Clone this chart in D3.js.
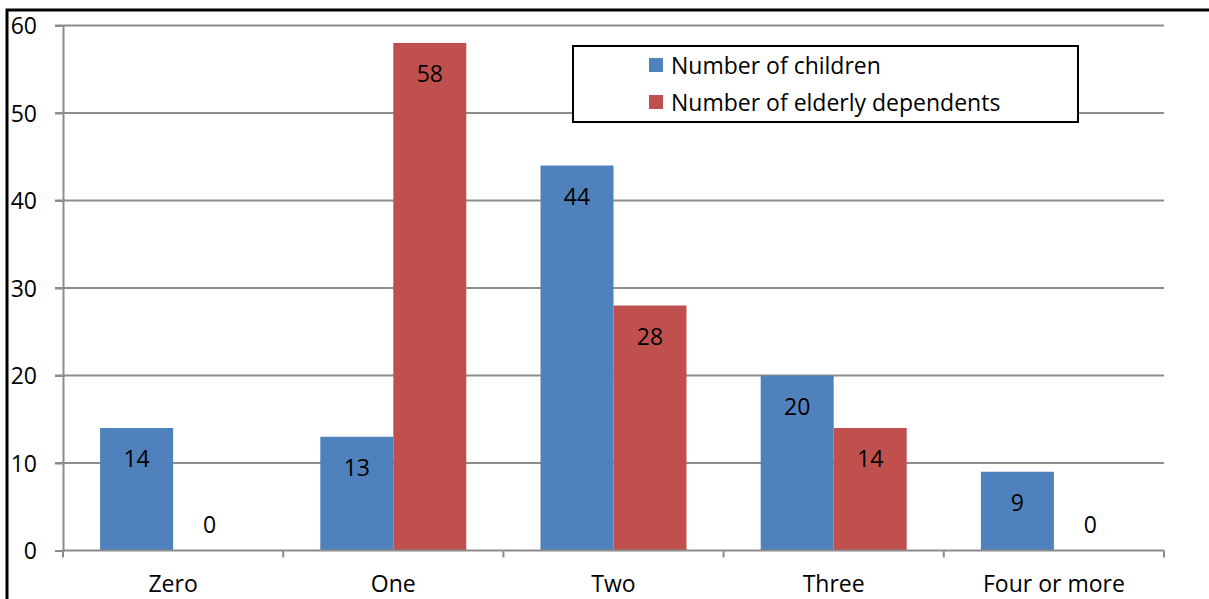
<!DOCTYPE html>
<html>
<head>
<meta charset="utf-8">
<script src="https://cdn.jsdelivr.net/npm/d3@7"></script>
<style>
  html, body { margin: 0; padding: 0; background: #fff; }
  svg { display: block; }
  text { font-family: "Open Sans", sans-serif; fill: #000; }
</style>
</head>
<body>
<svg id="chart" width="1209" height="599"></svg>
<script>
// Household composition counts
const categories = ["Zero", "One", "Two", "Three", "Four or more"];
const seriesNames = ["Number of children", "Number of elderly dependents"];
const children = [14, 13, 44, 20, 9];
const elderly = [0, 58, 28, 14, 0];
const yTicks = [0, 10, 20, 30, 40, 50, 60];
const colors = ["#4F81BD", "#C0504D"];

const FONT = "'Open Sans', sans-serif";
const FS = 23;

const svg = d3.select("#chart");
const W = 1209, H = 599;
const plot = { left: 63, right: 1164, top: 25.5, bottom: 550.5 };

// outer frame (extends past the bottom/right edges)
svg.append("rect")
  .attr("x", 7).attr("y", 10)
  .attr("width", W + 20).attr("height", H + 20)
  .attr("fill", "none").attr("stroke", "#000").attr("stroke-width", 3);

const x = d3.scaleBand().domain(categories).range([plot.left, plot.right]);
const y = d3.scaleLinear().domain([0, 60]).range([plot.bottom, plot.top]);
const barW = 73;

// gridlines
svg.append("g").selectAll("line")
  .data(yTicks.filter(d => d > 0))
  .join("line")
  .attr("x1", plot.left - 8).attr("x2", plot.right)
  .attr("y1", d => y(d)).attr("y2", d => y(d))
  .attr("stroke", "#8C8C8C").attr("stroke-width", 2);

// y axis
const yAxis = svg.append("g")
  .attr("transform", `translate(${plot.left},0)`)
  .call(d3.axisLeft(y).tickValues(yTicks).tickSize(8).tickPadding(18));
yAxis.select(".domain").attr("stroke", "#8C8C8C").attr("stroke-width", 2);
yAxis.selectAll(".tick line").attr("stroke", "#8C8C8C").attr("stroke-width", 2);
yAxis.selectAll(".tick text")
  .attr("font-size", FS).attr("font-family", FONT)
  .attr("fill", "#000").attr("dy", "0.36em");

// bars with value labels
const series = [children, elderly];
series.forEach((vals, si) => {
  const g = svg.append("g");
  const rows = categories.map((c, i) => ({ c, v: vals[i] }));
  g.selectAll("rect")
    .data(rows)
    .join("rect")
    .attr("x", d => x(d.c) + x.bandwidth() / 2 - barW + si * barW)
    .attr("y", d => y(d.v))
    .attr("width", barW)
    .attr("height", d => y(0) - y(d.v))
    .attr("fill", colors[si]);
  g.selectAll("text")
    .data(rows)
    .join("text")
    .attr("x", d => x(d.c) + x.bandwidth() / 2 - barW / 2 + si * barW)
    .attr("y", d => d.v > 0 ? y(d.v) + 31 : y(0) - 26)
    .attr("dy", "0.36em")
    .attr("text-anchor", "middle")
    .attr("font-size", FS)
    .text(d => d.v);
});

// x axis
const xAxis = svg.append("g")
  .attr("transform", `translate(0,${plot.bottom})`)
  .call(d3.axisBottom(x).tickSize(0).tickPadding(25));
xAxis.select(".domain").remove();
xAxis.selectAll(".tick text").attr("font-size", FS).attr("font-family", FONT).attr("fill", "#000");
svg.append("line")
  .attr("x1", plot.left).attr("x2", plot.right)
  .attr("y1", plot.bottom).attr("y2", plot.bottom)
  .attr("stroke", "#8C8C8C").attr("stroke-width", 2);
const bounds = categories.map(c => x(c)).concat([plot.right]);
svg.append("g").selectAll("line")
  .data(bounds)
  .join("line")
  .attr("x1", d => d).attr("x2", d => d)
  .attr("y1", plot.bottom).attr("y2", plot.bottom + 7)
  .attr("stroke", "#8C8C8C").attr("stroke-width", 2);

// legend
const lg = svg.append("g");
lg.append("rect")
  .attr("x", 573).attr("y", 46).attr("width", 505).attr("height", 76)
  .attr("fill", "#fff").attr("stroke", "#000").attr("stroke-width", 2);
seriesNames.forEach((name, i) => {
  const cy = 65 + i * 37;
  lg.append("rect").attr("x", 649).attr("y", cy - 7).attr("width", 14).attr("height", 14).attr("fill", colors[i]);
  lg.append("text").attr("x", 671).attr("y", cy + 1).attr("dy", "0.36em").attr("font-size", FS).text(name);
});
</script>
</body>
</html>
